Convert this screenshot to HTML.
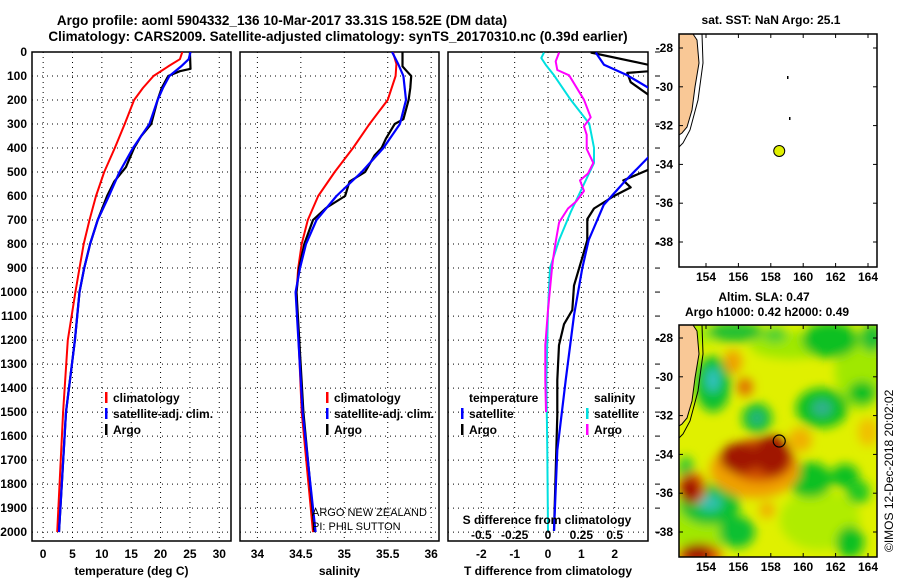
<!DOCTYPE html>
<html><head><meta charset="utf-8"><style>
html,body{margin:0;padding:0;background:#fff;}
svg{display:block;font-family:"Liberation Sans",sans-serif;}
text{font-weight:bold;font-size:12px;fill:#000;}
</style></head><body>
<svg id="chart" width="900" height="580" viewBox="0 0 900 580" xmlns="http://www.w3.org/2000/svg">
<defs>
<clipPath id="c1"><rect x="32" y="52" width="199" height="489"/></clipPath>
<clipPath id="c2"><rect x="240" y="52" width="199" height="489"/></clipPath>
<clipPath id="c3"><rect x="448" y="52" width="200" height="489"/></clipPath>
<clipPath id="cm2"><rect x="679" y="325" width="198" height="232"/></clipPath>
<filter id="blur" x="-20%" y="-20%" width="140%" height="140%"><feGaussianBlur stdDeviation="5"/></filter>
</defs>
<text x="282" y="25" text-anchor="middle" style="font-size:13.5px">Argo profile: aoml 5904332_136 10-Mar-2017 33.31S 158.52E (DM data)</text>
<text x="338" y="41" text-anchor="middle" style="font-size:13.5px">Climatology: CARS2009. Satellite-adjusted climatology: synTS_20170310.nc (0.39d earlier)</text>
<g id="panels"></g>
<g id="maps"></g>
</svg>
<script>
// ---- depth axis ----
const depthTicks = [0,100,200,300,400,500,600,700,800,900,1000,1100,1200,1300,1400,1500,1600,1700,1800,1900,2000];
// ---- temperature panel data ----
const tempTicks = [0,5,10,15,20,25,30];
const climTDepth = [0,30,60,100,150,200,300,400,500,600,700,800,900,1000,1200,1500,2000];
const climT = [23.7,23.3,21.3,18.8,17.0,15.5,13.9,12.2,10.4,9.0,7.9,6.9,6.2,5.5,4.2,3.4,2.4];
const satTDepth = [0,30,60,100,150,200,300,400,500,600,700,800,900,1000,1200,1500,2000];
const satT = [25.1,24.8,23.5,21.5,20.4,19.5,18.1,15.3,13.0,11.2,9.3,8.0,7.0,6.2,5.4,3.9,2.7];
const argoTDepth = [0,70,80,100,150,200,300,350,400,480,540,600,700,800,900,1000,1200,1500,2000];
const argoT = [25.0,25.1,23.3,21.3,20.2,19.5,18.4,16.7,15.5,14.1,12.1,10.9,9.3,8.0,7.0,6.2,5.4,3.9,2.7];
// ---- salinity panel data ----
const salTicks = [34,34.5,35,35.5,36];
const climSDepth = [0,50,100,200,300,400,500,600,700,800,900,1000,1500,2000];
const climS = [35.56,35.60,35.59,35.50,35.29,35.10,34.89,34.70,34.58,34.51,34.47,34.45,34.51,34.64];
const satSDepth = [0,50,100,200,300,400,500,600,700,800,900,1000,1500,2000];
const satS = [35.55,35.62,35.68,35.71,35.64,35.45,35.20,34.91,34.68,34.56,34.49,34.44,34.52,34.67];
const argoSDepth = [0,60,80,100,150,200,280,300,360,400,430,500,540,600,650,700,800,900,1000,1500,2000];
const argoS = [35.67,35.67,35.72,35.77,35.76,35.74,35.68,35.58,35.48,35.43,35.35,35.24,35.06,35.01,34.79,34.64,34.54,34.48,34.45,34.53,34.66];
// ---- difference panel data ----
const dTTicks = [-2,-1,0,1,2];
const dSTicks = [-0.5,-0.25,0,0.25,0.5];
const dSTickLabels = ["-0.5","-0.25","0","0.25","0.5"];
const satDTDepth = [2,53,97,148,300,440,535,637,783,900,1097,1367,1659,1995];
const satDT = [1.43,1.68,2.38,3.0,4.0,3.0,2.33,1.67,1.22,1.03,0.78,0.53,0.28,0.18];
const argoDTDepth = [2,53,75,87,126,177,300,491,535,564,600,652,696,783,856,973,1075,1134,1221,1367,1513,1995];
const argoDT = [1.28,3.0,3.5,2.38,2.48,3.0,4.0,3.0,2.26,2.48,1.98,1.38,1.18,1.18,1.03,0.78,0.73,0.48,0.33,0.28,0.28,0.18];
const satDSDepth = [2,25,53,97,199,299,399,462,550,667,783,900,1075,1367,1659,1995];
const satDS = [-0.03,-0.05,-0.017,0.045,0.17,0.31,0.345,0.345,0.27,0.17,0.083,0.015,0.0,-0.012,-0.005,0.0];
const argoDSDepth = [2,39,75,97,126,199,272,309,345,404,462,506,535,579,623,652,710,783,856,900,1075,1221,1367,1500];
const argoDS = [0.083,0.058,0.07,0.158,0.19,0.27,0.32,0.27,0.29,0.29,0.34,0.30,0.24,0.27,0.21,0.15,0.083,0.06,0.04,0.03,0.0,-0.02,-0.02,-0.015];
// ---- map data ----
const lonTicks = [154,156,158,160,162,164];
const latTicks = [-28,-30,-32,-34,-36,-38];
const floatLon = 158.52, floatLat = -33.31;

const NS = "http://www.w3.org/2000/svg";
const Y0 = 52, Y1 = 541, DMAX = 2037;
function yD(d){ return Y0 + d/DMAX*(Y1-Y0); }
function mk(tag, attrs, parent){ const e=document.createElementNS(NS,tag); for(const k in attrs) e.setAttribute(k,attrs[k]); parent.appendChild(e); return e; }
const root = document.getElementById('panels');

function panel(name, x0, x1, dom, ticks, tickLabels, clip, xlabel){
  const g = mk('g',{},root);
  
  
  const xs = v => x0 + (v-dom[0])/(dom[1]-dom[0])*(x1-x0);
  depthTicks.forEach(d=>{
    const l = mk('line',{x1:x0,x2:x1,y1:yD(d),y2:yD(d),stroke:'#000','stroke-width':1,'stroke-dasharray':'1,4'},g);
    
    
  });
  ticks.forEach((t,i)=>{
    const l = mk('line',{x1:xs(t),x2:xs(t),y1:Y0,y2:Y1,stroke:'#000','stroke-width':1,'stroke-dasharray':'1,4'},g);
    
    
    const tx = mk('text',{x:xs(t),y:558,'text-anchor':'middle'},g);
    tx.textContent = tickLabels[i];
    
    
  });
  const xl = mk('text',{x:(x0+x1)/2,y:575,'text-anchor':'middle'},g);
  xl.textContent = xlabel;
  
  
  const fr = mk('rect',{x:x0,y:Y0,width:x1-x0,height:Y1-Y0,fill:'none',stroke:'#000','stroke-width':1.5},g);
  
  
  const lines = mk('g',{'clip-path':'url(#'+clip+')'},g);
  return {xs, lines, g};
}
function series(p, xs, depths, vals, color, name, w){
  const pts = depths.map((d,i)=> xs(vals[i]).toFixed(1)+','+yD(d).toFixed(1)).join(' ');
  const pl = mk('polyline',{points:pts,fill:'none',stroke:color,'stroke-width':w||2,'stroke-linejoin':'round'},p.lines);
  
  
}
function legend(parent, x, y, label, color, name){
  if(color){
    const r = mk('rect',{x:x-8,y:y-10,width:2.5,height:11,fill:color},parent);
    
    
  }
  const t = mk('text',{x:x,y:y},parent);
  t.textContent = label;
  
  
}

depthTicks.forEach(d=>{
  const t = mk('text',{x:27,y:yD(d)+4,'text-anchor':'end'},root);
  t.textContent = d;
  
  
});

const p1 = panel('temperature-panel',32,231,[-1.9,32],tempTicks,tempTicks.map(String),'c1','temperature (deg C)');
series(p1,p1.xs,climTDepth,climT,'#ff0000','climatology-temperature-line');
series(p1,p1.xs,argoTDepth,argoT,'#000','argo-temperature-line',2.2);
series(p1,p1.xs,satTDepth,satT,'#0000ff','satellite-temperature-line',2.2);
legend(p1.g,113,402,'climatology','#ff0000','legend-climatology');
legend(p1.g,113,418,'satellite-adj. clim.','#0000ff','legend-satellite');
legend(p1.g,113,434,'Argo','#000','legend-argo');

const p2 = panel('salinity-panel',240,439,[33.8,36.09],salTicks,salTicks.map(String),'c2','salinity');
series(p2,p2.xs,climSDepth,climS,'#ff0000','climatology-salinity-line');
series(p2,p2.xs,argoSDepth,argoS,'#000','argo-salinity-line',2.2);
series(p2,p2.xs,satSDepth,satS,'#0000ff','satellite-salinity-line',2.2);
legend(p2.g,334,402,'climatology','#ff0000','legend-climatology');
legend(p2.g,334,418,'satellite-adj. clim.','#0000ff','legend-satellite');
legend(p2.g,334,434,'Argo','#000','legend-argo');
const nz1 = mk('text',{x:312,y:516,style:'font-weight:normal;font-size:11px'},p2.g); nz1.textContent='ARGO NEW ZEALAND';


const nz2 = mk('text',{x:312,y:530,style:'font-weight:normal;font-size:11px'},p2.g); nz2.textContent='PI: PHIL SUTTON';



const p3 = panel('difference-panel',448,648,[-3,3],dTTicks,dTTicks.map(String),'c3','T difference from climatology');
const xsS = v => p3.xs(v*4);
series(p3,xsS,satDSDepth,satDS,'#00e0e0','satellite-salinity-diff-line');
series(p3,xsS,argoDSDepth,argoDS,'#ff00ff','argo-salinity-diff-line');
series(p3,p3.xs,argoDTDepth,argoDT,'#000','argo-temperature-diff-line',2.2);
series(p3,p3.xs,satDTDepth,satDT,'#0000ff','satellite-temperature-diff-line',2.2);
legend(p3.g,469,402,'temperature',null,'legend-temperature-heading');
legend(p3.g,469,418,'satellite','#0000ff','legend-temp-satellite');
legend(p3.g,469,434,'Argo','#000','legend-temp-argo');
legend(p3.g,594,402,'salinity',null,'legend-salinity-heading');
legend(p3.g,594,418,'satellite','#00e0e0','legend-sal-satellite');
legend(p3.g,594,434,'Argo','#ff00ff','legend-sal-argo');
const st = mk('text',{x:547,y:524,'text-anchor':'middle'},p3.g); st.textContent='S difference from climatology';


dSTicks.forEach((v,i)=>{
  const t = mk('text',{x:xsS(v),y:539,'text-anchor':'middle'},p3.g); t.textContent=dSTickLabels[i];
  
  
});
depthTicks.forEach(d=>{
  const l = mk('line',{x1:655,x2:660,y1:yD(d),y2:yD(d),stroke:'#000'},p3.g);
  
  
});

const mroot = document.getElementById('maps');
function mapFrame(name, x0, y0, x1, y1, latRef){
  const g = mk('g',{},mroot);
  
  
  const lonX = lon => 706 + (lon-154)*16.2;
  const latY = lat => latRef + (-28-lat)*19.4;
  return {g, lonX, latY, x0, y0, x1, y1};
}
function mapAxes(m){
  const fr = mk('rect',{x:m.x0,y:m.y0,width:m.x1-m.x0,height:m.y1-m.y0,fill:'none',stroke:'#000','stroke-width':1.5},m.g);
  
  
  lonTicks.forEach(l=>{
    const x=m.lonX(l);
    mk('line',{x1:x,x2:x,y1:m.y0,y2:m.y0+4,stroke:'#000'},m.g);
    mk('line',{x1:x,x2:x,y1:m.y1,y2:m.y1-4,stroke:'#000'},m.g);
    const t = mk('text',{x:x,y:m.y1+14,'text-anchor':'middle'},m.g); t.textContent=l;
    
    
  });
  latTicks.forEach(l=>{
    const y=m.latY(l);
    mk('line',{x1:m.x0,x2:m.x0+4,y1:y,y2:y,stroke:'#000'},m.g);
    mk('line',{x1:m.x1,x2:m.x1-4,y1:y,y2:y,stroke:'#000'},m.g);
    const t = mk('text',{x:673,y:y+4,'text-anchor':'end'},m.g); t.textContent=l;
    
    
  });
}
const m1 = mapFrame('sst-map',679,34,877,267,48);
const t1 = mk('text',{x:771,y:24,'text-anchor':'middle'},m1.g); t1.textContent='sat. SST: NaN Argo: 25.1';


const land1 = mk('polygon',{points:'679,34 693,34 697,40 699,63 695,87 692,110 687,127 682,133 679,135',fill:'#f9c896',stroke:'#000','stroke-width':1},m1.g);


const cont1 = mk('polyline',{points:'702,34 703,63 698,100 690,130 683,143 679,147',fill:'none',stroke:'#000','stroke-width':1},m1.g);


mk('rect',{x:787,y:76,width:1.5,height:3,fill:'#000'},m1.g);
mk('rect',{x:789,y:117,width:1.5,height:3,fill:'#000'},m1.g);
const dot = mk('circle',{cx:m1.lonX(floatLon),cy:m1.latY(floatLat),r:5.5,fill:'#e0f000',stroke:'#000','stroke-width':1},m1.g);


mapAxes(m1);

const m2 = mapFrame('sla-map',679,325,877,557,338);
const t2a = mk('text',{x:764,y:301,'text-anchor':'middle'},m2.g); t2a.textContent='Altim. SLA: 0.47';


const t2b = mk('text',{x:767,y:316,'text-anchor':'middle'},m2.g); t2b.textContent='Argo h1000: 0.42 h2000: 0.49';


const hg = mk('g',{'clip-path':'url(#cm2)'},m2.g);


mk('rect',{x:679,y:325,width:198,height:232,fill:'#e0f000'},hg);
const bl = mk('g',{filter:'url(#blur)'},hg);
const blobs = [
 [790,345,40,14,'#a0e800'],[860,370,25,40,'#a0e800'],[820,520,40,30,'#b0ec00'],[700,520,30,40,'#a0e800'],
 [700,334,22,10,'#a8f000'],[735,332,28,10,'#20c030'],[830,340,28,18,'#10c020'],[872,338,12,14,'#20c030'],[775,335,12,8,'#50d030'],
 [713,384,18,28,'#10c030'],[713,380,7,12,'#30c0c0'],[757,418,15,15,'#10c030'],[757,418,6,6,'#30b090'],
 [822,408,26,20,'#10c020'],[822,408,10,8,'#30b090'],[862,393,14,12,'#10c020'],
 [810,480,22,18,'#10c020'],[845,476,14,12,'#10c020'],[858,492,12,12,'#20c820'],
 [710,505,30,20,'#10c030'],[710,503,12,8,'#30c0b0'],[737,532,18,16,'#10c030'],[850,542,14,16,'#10c020'],[686,470,8,14,'#30c830'],
 [755,470,45,28,'#f0a000'],[760,460,34,22,'#d05000'],[772,455,18,20,'#a01800'],[740,458,20,15,'#a01800'],
 [733,362,9,12,'#f0a000'],[745,387,8,9,'#e07000'],[767,510,8,8,'#f0b000'],[800,440,12,12,'#f0b000'],[868,432,10,14,'#f0c000'],
 [692,488,14,16,'#e06000'],[690,490,10,13,'#a01000'],[700,555,22,12,'#e06000'],[697,553,15,9,'#a01000']
];
blobs.forEach(b=>{
  const e = mk('ellipse',{cx:b[0],cy:b[1],rx:b[2],ry:b[3],fill:b[4]},bl);
  
  
});
const land2 = mk('polygon',{points:'679,325 693,325 697,331 699,354 695,378 692,401 687,418 682,424 679,426',fill:'#f9c896',stroke:'#000','stroke-width':1},hg);


mk('polyline',{points:'702,325 703,354 698,391 690,421 683,434 679,438',fill:'none',stroke:'#000','stroke-width':1},hg);
const ring = mk('circle',{cx:m2.lonX(floatLon),cy:m2.latY(floatLat),r:6,fill:'none',stroke:'#000','stroke-width':1.2},m2.g);


mapAxes(m2);
const imos = mk('text',{x:0,y:0,transform:'translate(893,552) rotate(-90)',style:'font-weight:normal;font-size:12px'},mroot);
imos.textContent='©IMOS 12-Dec-2018 20:02:02';


</script>
</body></html>
